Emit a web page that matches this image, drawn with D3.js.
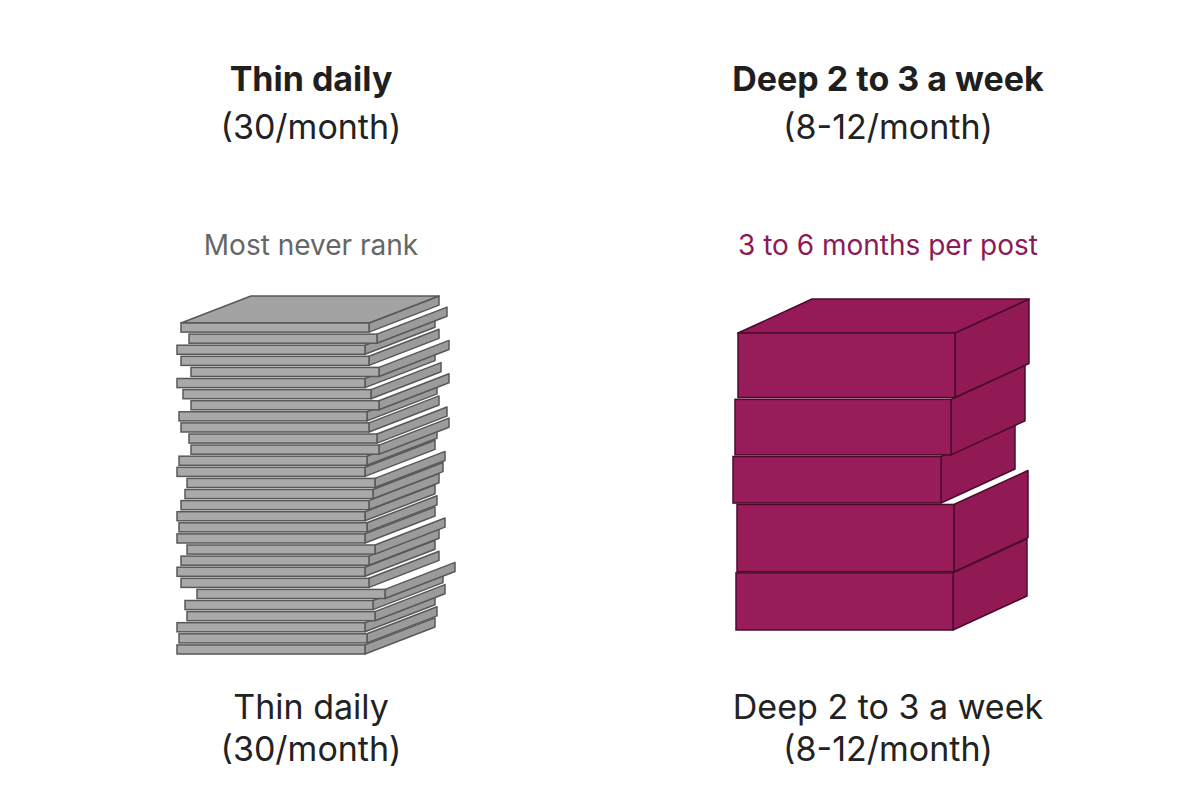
<!DOCTYPE html>
<html>
<head>
<meta charset="utf-8">
<style>
body { margin: 0; background: #fff; }
svg text { font-family: Inter, "Noto Sans", sans-serif; text-anchor: middle; }
</style>
<script src="https://d3js.org/d3.v7.min.js"></script>
</head>
<body>
<svg width="1200" height="800"></svg>
<script>
// data
var columns = ["Thin daily", "Deep 2 to 3 a week"];
var subtitles = ["(30/month)", "(8-12/month)"];
var notes = ["Most never rank", "3 to 6 months per post"];
var postsPerMonth = [30, 5];
// horizontal shift of each thin post, bottom to top
var thinShift = [0, 2, 0, 10, 8, 20, 4, 0, 4, 10, 0, 2, 0, 4, 8, 10, 0, 2, 14, 12, 4, 2, 14, 6, 0, 14, 4, 0, 12, 4];
// deep posts, bottom to top: thickness and shift
var deepThick = [57, 67, 47, 56, 65];
var deepShift = [0, 1, -3, -1, 2];
var deepWidthTrim = [0, 0, 9, 1, 0];

var svg = d3.select("svg");
var centers = d3.scalePoint().domain(columns).range([311, 888]);

svg.selectAll(".title").data(columns).enter().append("text")
  .attr("x", function(d) { return centers(d); }).attr("y", 91)
  .attr("font-size", 34).attr("font-weight", 700).attr("fill", "#1f1f1f")
  .text(function(d) { return d; });
svg.selectAll(".sub").data(subtitles).enter().append("text")
  .attr("x", function(d, i) { return centers(columns[i]); }).attr("y", 139)
  .attr("font-size", 34).attr("fill", "#222").text(function(d) { return d; });
svg.selectAll(".note").data(notes).enter().append("text")
  .attr("x", function(d, i) { return centers(columns[i]); }).attr("y", 255)
  .attr("font-size", 28).attr("fill", function(d, i) { return i ? "#8c1a56" : "#666"; })
  .text(function(d) { return d; });
svg.selectAll(".lab1").data(columns).enter().append("text")
  .attr("x", function(d) { return centers(d); }).attr("y", 719)
  .attr("font-size", 34).attr("fill", "#222").text(function(d) { return d; });
svg.selectAll(".lab2").data(subtitles).enter().append("text")
  .attr("x", function(d, i) { return centers(columns[i]); }).attr("y", 761)
  .attr("font-size", 34).attr("fill", "#222").text(function(d) { return d; });

function box(g, x, y, w, h, dx, dy, front, side, top, stroke, showTop) {
  g.append("polygon")
    .attr("points", [[x + w, y], [x + w + dx, y + dy], [x + w + dx, y + h + dy], [x + w, y + h]].join(" "))
    .attr("fill", side).attr("stroke", stroke).attr("stroke-width", 1.5).attr("stroke-linejoin", "round");
  if (showTop) {
    g.append("polygon")
      .attr("points", [[x, y], [x + dx, y + dy], [x + w + dx, y + dy], [x + w, y]].join(" "))
      .attr("fill", top).attr("stroke", stroke).attr("stroke-width", 1.5).attr("stroke-linejoin", "round");
  }
  g.append("rect").attr("x", x).attr("y", y).attr("width", w).attr("height", h)
    .attr("fill", front).attr("stroke", stroke).attr("stroke-width", 1.5);
}

// thin stack
var thinY = d3.scaleLinear().domain([0, postsPerMonth[0]]).range([656, 323]);
var gThin = svg.append("g");
thinShift.forEach(function(s, i) {
  var yTop = thinY(i + 1);
  var h = thinY(i) - thinY(i + 1) - 2;
  box(gThin, 177 + s, yTop, 188, h, 70, -27, "#a9a9a9", "#9b9b9b", "#a3a3a3", "#585858", i === thinShift.length - 1);
});

// deep stack
var total = d3.sum(deepThick);
var deepY = d3.scaleLinear().domain([0, total]).range([631, 631 - total - deepThick.length * 1.2]);
var gDeep = svg.append("g");
var acc = 0;
deepThick.forEach(function(t, i) {
  var yBot = deepY(acc) - i * 0.2;
  acc += t;
  var yTop = deepY(acc);
  box(gDeep, 736 + deepShift[i], yTop, 217 - deepWidthTrim[i], yBot - yTop - 1, 74, -34,
      "#981c59", "#911954", "#951a57", "#4a0b2c", i === deepThick.length - 1);
});
</script>
</body>
</html>
